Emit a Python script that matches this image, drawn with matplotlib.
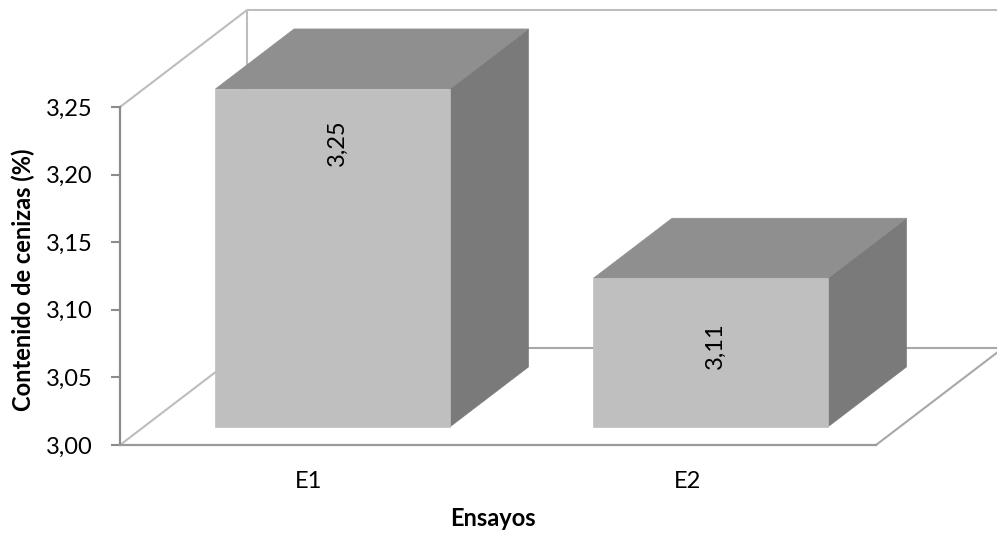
import matplotlib
matplotlib.use("Agg")
import matplotlib.pyplot as plt
from matplotlib.patches import Polygon

plt.rcParams['font.family'] = ['Lato', 'DejaVu Sans']

# Data
categories = ["E1", "E2"]
values = [3.25, 3.11]
value_labels = ["3,25", "3,11"]
y_ticks = [3.00, 3.05, 3.10, 3.15, 3.20, 3.25]
y_tick_labels = ["3,00", "3,05", "3,10", "3,15", "3,20", "3,25"]

# Layout of the pseudo-3D box (depth vector in data units)
Y_MIN, Y_MAX = 3.00, 3.25
DX, DY = 0.336, 0.0717
BAR_W = 0.62
Z_FRONT, Z_BACK = 0.186, 0.805
label_pos = [0.84, 0.545]   # fraction of bar height for the value label
FS = 17

FRONT = "#BFBFBF"
TOP = "#8F8F8F"
SIDE = "#7A7A7A"
WALL = "#BDBDBD"
AXIS = "#8C8C8C"

fig = plt.figure(figsize=(9.97, 5.34), dpi=100)
ax = fig.add_axes([120 / 997, 89 / 534, 756 / 997, 338 / 534])
ax.set_xlim(0, len(categories))
ax.set_ylim(Y_MIN, Y_MAX)
ax.patch.set_alpha(0)

for s in ("top", "right"):
    ax.spines[s].set_visible(False)
ax.spines["left"].set_color(AXIS)
ax.spines["left"].set_linewidth(1.6)
ax.spines["bottom"].set_color("#9A9A9A")
ax.spines["bottom"].set_linewidth(1.6)


def proj(x, v, z):
    return (x + z * DX, v + z * DY)


def wall_line(p, q, color=WALL, lw=1.5):
    ax.plot([p[0], q[0]], [p[1], q[1]], color=color, lw=lw,
            clip_on=False, zorder=1, solid_capstyle="butt")


n = len(categories)
# Side wall, back wall and floor outlines
wall_line(proj(0, Y_MAX, 0), proj(0, Y_MAX, 1))
wall_line(proj(0, Y_MIN, 0), proj(0, Y_MIN, 1))
wall_line(proj(0, Y_MIN, 1), proj(0, Y_MAX, 1))
wall_line(proj(0, Y_MAX, 1), proj(n, Y_MAX, 1))
wall_line(proj(0, Y_MIN, 1), proj(n, Y_MIN, 1), color="#A8A8A8")
wall_line(proj(n, Y_MIN, 0), proj(n, Y_MIN, 1), color="#A8A8A8")
wall_line(proj(n, Y_MIN, 1), proj(n, Y_MAX, 1))

# Bars as boxes
for i, v in enumerate(values):
    x0 = i + 0.5 - BAR_W / 2
    x1 = i + 0.5 + BAR_W / 2
    front = [proj(x0, Y_MIN, Z_FRONT), proj(x1, Y_MIN, Z_FRONT),
             proj(x1, v, Z_FRONT), proj(x0, v, Z_FRONT)]
    top = [proj(x0, v, Z_FRONT), proj(x1, v, Z_FRONT),
           proj(x1, v, Z_BACK), proj(x0, v, Z_BACK)]
    side = [proj(x1, Y_MIN, Z_FRONT), proj(x1, Y_MIN, Z_BACK),
            proj(x1, v, Z_BACK), proj(x1, v, Z_FRONT)]
    for pts, c in ((side, SIDE), (top, TOP), (front, FRONT)):
        ax.add_patch(Polygon(pts, closed=True, facecolor=c, edgecolor=c,
                             lw=0.5, clip_on=False, zorder=3))
    lx, ly = proj(i + 0.5, Y_MIN + (v - Y_MIN) * label_pos[i], Z_FRONT)
    ax.text(lx + 0.012, ly, value_labels[i], rotation=90, ha="center",
            va="center", fontsize=FS, color="black", zorder=5)

ax.set_yticks(y_ticks)
ax.set_yticklabels(y_tick_labels)
ax.set_xticks([i + 0.5 for i in range(n)])
ax.set_xticklabels(categories)
ax.tick_params(axis="y", direction="out", length=6.5, width=1.5,
               color=AXIS, pad=13, labelsize=FS)
ax.tick_params(axis="x", length=0, pad=19, labelsize=FS)

fig.text(23 / 997, 1 - 280 / 534, "Contenido de cenizas (%)", rotation=90,
         ha="center", va="center", fontsize=FS, fontweight="bold")
fig.text(493 / 997, 1 - 519 / 534, "Ensayos", ha="center", va="center",
         fontsize=FS, fontweight="bold")

fig.savefig("out.png", dpi=100)
